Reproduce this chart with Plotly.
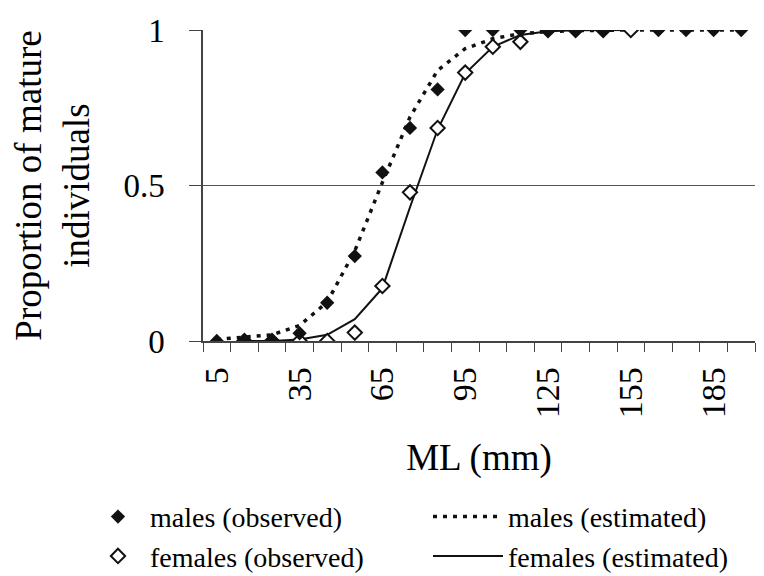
import plotly.graph_objects as go

# ---- data ----
ml_classes = [5, 15, 25, 35, 45, 55, 65, 75, 85, 95, 105, 115, 125, 135, 145, 155, 165, 175, 185, 195]

males_observed = [0, 0, 0, 0.025, 0.123, 0.273, 0.542, 0.685, 0.809, 1, 1, 1, 1, 1, 1, None, 1, 1, 1, 1]
females_observed = [None, 0, 0, 0, 0, 0.027, 0.177, 0.478, 0.685, 0.863, 0.946, 0.962, 1, 1, 1, 1,
                    None, None, None, None]

males_estimated = [0.005, 0.012, 0.02, 0.05, 0.125, 0.29, 0.51, 0.72, 0.87, 0.94, 0.972, 0.988, 0.995,
                   0.998, 1, 1, 1, 1, 1, 1]
females_estimated = [None, 0, 0, 0.005, 0.02, 0.07, 0.17, 0.43, 0.68, 0.86, 0.946, 0.984, 0.996, 0.999,
                     1, 1, None, None, None, None]

x_tick_values = [5, 35, 65, 95, 125, 155, 185]
x_tick_labels = ["5", "35", "65", "95", "125", "155", "185"]
y_tick_values = [0, 0.5, 1]
y_tick_labels = ["0", "0.5", "1"]

FONT = "Liberation Serif, Times New Roman, serif"
INK = "#111111"

fig = go.Figure()

fig.add_trace(go.Scatter(
    x=ml_classes, y=females_estimated, mode="lines", name="females (estimated)",
    line=dict(color=INK, width=2), legend="legend2", legendrank=2, connectgaps=False))
fig.add_trace(go.Scatter(
    x=ml_classes, y=males_estimated, mode="lines", name="males (estimated)",
    line=dict(color=INK, width=3.5, dash="4px,6px"), legend="legend2", legendrank=1))
fig.add_trace(go.Scatter(
    x=ml_classes, y=females_observed, mode="markers", name="females (observed)",
    marker=dict(symbol="diamond", size=11, color="white", line=dict(color=INK, width=2)),
    legend="legend", legendrank=2))
fig.add_trace(go.Scatter(
    x=ml_classes, y=males_observed, mode="markers", name="males (observed)",
    marker=dict(symbol="diamond", size=11, color=INK, line=dict(color=INK, width=0)),
    legend="legend", legendrank=1))

# the page adds an 8px body margin, so the figure is 8px smaller than the window
fig.update_layout(
    width=756, height=568,
    margin=dict(l=195, r=9, t=22, b=235, autoexpand=False),
    paper_bgcolor="white", plot_bgcolor="white",
    font=dict(family=FONT, color="black", size=32),
    showlegend=True,
    legend=dict(x=-0.212, y=-0.485, xanchor="left", yanchor="top",
                font=dict(family=FONT, size=28, color="black"),
                bgcolor="rgba(0,0,0,0)", tracegroupgap=0, itemwidth=54),
    legend2=dict(x=0.4076, y=-0.485, xanchor="left", yanchor="top",
                 font=dict(family=FONT, size=28, color="black"),
                 bgcolor="rgba(0,0,0,0)", tracegroupgap=0, itemwidth=70),
)

fig.update_xaxes(
    automargin=False,
    range=[0, 200], tickmode="array", tickvals=x_tick_values, ticktext=x_tick_labels,
    tickangle=-90, ticks="", ticklabelstandoff=11,
    tickfont=dict(family=FONT, size=34, color="black"),
    minor=dict(ticks="outside", ticklen=9, tick0=0, dtick=10, tickcolor="#444444", tickwidth=1,
               showgrid=False),
    showline=True, linecolor="#444444", linewidth=1.5, showgrid=False, zeroline=False,
    title=dict(text="ML (mm)", font=dict(family=FONT, size=37, color="black"), standoff=27),
    fixedrange=True,
)

fig.update_yaxes(
    automargin=False,
    range=[0, 1], tickmode="array", tickvals=y_tick_values, ticktext=y_tick_labels,
    ticks="outside", ticklen=12, tickcolor="#444444", ticklabelstandoff=18,
    tickfont=dict(family=FONT, size=33, color="black"),
    showline=True, linecolor="#444444", linewidth=1.5,
    showgrid=True, gridcolor="#555555", gridwidth=1, zeroline=False,
    title=dict(text="Proportion of mature<br>individuals",
               font=dict(family=FONT, size=37, color="black"), standoff=50),
    fixedrange=True,
)

fig.write_html("out.html")
